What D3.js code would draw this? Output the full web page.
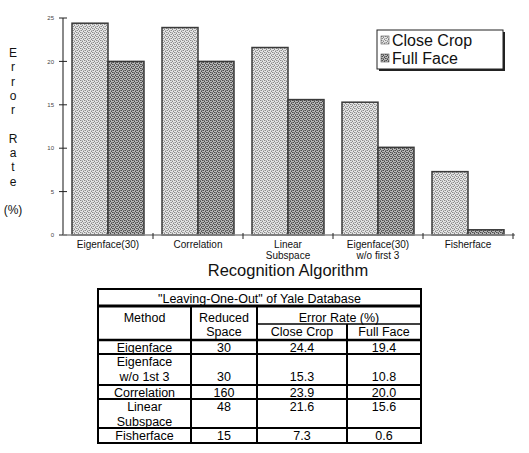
<!DOCTYPE html>
<html><head><meta charset="utf-8">
<script src="https://cdn.jsdelivr.net/npm/d3@7"></script>
<style>body{margin:0;background:#fff}svg{display:block}</style>
</head><body>
<svg id="c" width="529" height="453"></svg>
<script>
// ---- data ----
const categories = [["Eigenface(30)"],["Correlation"],["Linear","Subspace"],["Eigenface(30)","w/o first 3"],["Fisherface"]];
const seriesNames = ["Close Crop","Full Face"];
const closeCrop = [24.4, 23.9, 21.6, 15.3, 7.3];
const fullFace  = [20.0, 20.0, 15.6, 10.1, 0.6];
const yTicks = [0,5,10,15,20,25];
const yTitleLetters = ["E","r","r","o","r","","R","a","t","e","","(%)"];
const xTitle = "Recognition Algorithm";

const tableTitle = "\"Leaving-One-Out\" of Yale Database";
const tableHead = ["Method","Reduced","Space","Error Rate (%)","Close Crop","Full Face"];
const tableMethods = [["Eigenface"],["Eigenface","w/o 1st 3"],["Correlation"],["Linear","Subspace"],["Fisherface"]];
const tableSpace = ["30","30","160","48","15"];
const tableClose = ["24.4","15.3","23.9","21.6","7.3"];
const tableFull  = ["19.4","10.8","20.0","15.6","0.6"];
const tableValueLine = [0,1,0,0,0]; // which text line of the method cell the values sit on

// ---- chart ----
const svg = d3.select("#c");
const font = "Liberation Sans, Arial, sans-serif";
const defs = svg.append("defs");
function pat(id, bg, fg, mid){
  const p = defs.append("pattern").attr("id",id).attr("width",4).attr("height",4).attr("patternUnits","userSpaceOnUse");
  p.append("rect").attr("width",4).attr("height",4).attr("fill",bg);
  [[0,0],[2,1],[1,2],[3,3]].forEach(([x,y])=>p.append("rect").attr("x",x).attr("y",y).attr("width",1).attr("height",1).attr("fill",fg));
  [[2,0],[0,2],[1,0],[3,2]].forEach(([x,y])=>p.append("rect").attr("x",x).attr("y",y).attr("width",1).attr("height",1).attr("fill",mid));
}
pat("pClose","#e6e6e6","#8a8a8a","#bdbdbd");
pat("pFull","#b8b8b8","#4a4a4a","#7a7a7a");
const fills = ["url(#pClose)","url(#pFull)"];

const keys = categories.map(c=>c.join(" "));
const x = d3.scaleBand().domain(keys).range([63,513]).paddingInner(0.2).paddingOuter(0.1);
const xs = d3.scaleBand().domain(seriesNames).range([0,x.bandwidth()]);
const y = d3.scaleLinear().domain([0,25]).range([235,18]);

const groups = svg.append("g").selectAll("g").data(keys).join("g").attr("transform",d=>`translate(${x(d)},0)`);
groups.each(function(k,i){
  const vals = [closeCrop[i], fullFace[i]];
  d3.select(this).selectAll("rect").data(vals).join("rect")
    .attr("x",(v,j)=>xs(seriesNames[j])).attr("y",v=>y(v))
    .attr("width",xs.bandwidth()).attr("height",v=>y(0)-y(v))
    .attr("fill",(v,j)=>fills[j]).attr("stroke","#3a3a3a").attr("stroke-width",1.5);
});

// y axis
svg.append("line").attr("x1",63).attr("x2",63).attr("y1",y(25)).attr("y2",y(0)).attr("stroke","#8a8a8a").attr("stroke-width",2);
const yt = svg.append("g").selectAll("g").data(yTicks).join("g").attr("transform",d=>`translate(0,${y(d)})`);
yt.append("line").attr("x1",59).attr("x2",67).attr("stroke","#222").attr("stroke-width",1);
yt.append("text").attr("x",54).attr("dy","0.35em").attr("text-anchor","end").attr("font-family",font).attr("font-size",6).attr("fill","#444").text(d=>d);

// x axis
svg.append("line").attr("x1",63).attr("x2",515).attr("y1",235).attr("y2",235).attr("stroke","#8a8a8a").attr("stroke-width",1.5);
const bounds = keys.map(k=>x(k)+x.step()-x.step()*0.1);
svg.append("g").selectAll("line").data(bounds).join("line")
  .attr("x1",d=>d).attr("x2",d=>d).attr("y1",233).attr("y2",239).attr("stroke","#222");
const xl = svg.append("g").selectAll("text").data(categories).join("text")
  .attr("x",(d,i)=>x(keys[i])+x.bandwidth()/2).attr("y",248)
  .attr("text-anchor","middle").attr("font-family",font).attr("font-size",10).attr("fill","#111");
xl.selectAll("tspan").data(d=>d).join("tspan").attr("x",function(){return this.parentNode.getAttribute("x");}).attr("dy",(d,i)=>i?11:0).text(d=>d);
svg.append("text").attr("x",288).attr("y",276).attr("text-anchor","middle").attr("font-family",font).attr("font-size",16.5).attr("fill","#111").text(xTitle);

// y title
svg.append("g").selectAll("text").data(yTitleLetters).join("text")
  .attr("x",13).attr("y",(d,i)=>57+i*14.3).attr("text-anchor","middle").attr("font-family",font).attr("font-size",12).attr("fill","#111").text(d=>d);

// legend
svg.append("rect").attr("x",379).attr("y",32).attr("width",126).attr("height",39).attr("fill","#222");
svg.append("rect").attr("x",377).attr("y",30).attr("width",126).attr("height",39).attr("fill","#fff").attr("stroke","#222").attr("stroke-width",1);
const lg = svg.append("g").selectAll("g").data(seriesNames).join("g").attr("transform",(d,i)=>`translate(381,${36+i*18})`);
lg.append("rect").attr("width",8).attr("height",8).attr("fill",(d,i)=>fills[i]).attr("stroke","#555").attr("stroke-width",0.6);
lg.append("text").attr("x",11).attr("y",10).attr("font-family",font).attr("font-size",16).attr("fill","#111").text(d=>d);

// ---- table ----
const T = svg.append("g");
const cx = [98,191,257,347,421];
// row boundaries: top, below title, below header, then each data row
const rowsY = [289,306,340,354,385,399,428,443];
const lineH = 14.5;
function hl(x1,x2,yy,w){T.append("line").attr("x1",x1).attr("x2",x2).attr("y1",yy).attr("y2",yy).attr("stroke","#000").attr("stroke-width",w);}
function vl(xx,y1,y2,w){T.append("line").attr("x1",xx).attr("x2",xx).attr("y1",y1).attr("y2",y2).attr("stroke","#000").attr("stroke-width",w);}
function tx(xx,yy,s){T.append("text").attr("x",xx).attr("y",yy).attr("text-anchor","middle").attr("font-family",font).attr("font-size",12.5).attr("fill","#000").text(s);}
hl(cx[0]-1,cx[4]+1,rowsY[0],2);
hl(cx[0],cx[4],rowsY[1],3);
hl(cx[2],cx[4],324,1.5);
hl(cx[0],cx[4],rowsY[2],2.5);
for(let r=3;r<rowsY.length-1;r++) hl(cx[0],cx[4],rowsY[r],1.8);
hl(cx[0]-1,cx[4]+1,rowsY[rowsY.length-1],2);
vl(cx[0],rowsY[0],rowsY[7],2); vl(cx[4],rowsY[0],rowsY[7],2);
vl(cx[1],rowsY[1],rowsY[7],2); vl(cx[2],rowsY[1],rowsY[7],2); vl(cx[3],324,rowsY[7],2);
const mid = (a,b)=>(a+b)/2;
tx(mid(cx[0],cx[4]),302.5,tableTitle);
tx(mid(cx[0],cx[1]),321.5,tableHead[0]);
tx(mid(cx[1],cx[2]),321.5,tableHead[1]);
tx(mid(cx[1],cx[2]),336,tableHead[2]);
tx(mid(cx[2],cx[4]),321.5,tableHead[3]);
tx(mid(cx[2],cx[3]),336,tableHead[4]);
tx(mid(cx[3],cx[4]),336,tableHead[5]);
tableMethods.forEach((m,i)=>{
  const top = rowsY[i+2];
  m.forEach((s,j)=>tx(mid(cx[0],cx[1]),top+12+j*lineH,s));
  const vy = top+12+tableValueLine[i]*lineH;
  tx(mid(cx[1],cx[2]),vy,tableSpace[i]);
  tx(mid(cx[2],cx[3]),vy,tableClose[i]);
  tx(mid(cx[3],cx[4]),vy,tableFull[i]);
});
</script>
</body></html>
